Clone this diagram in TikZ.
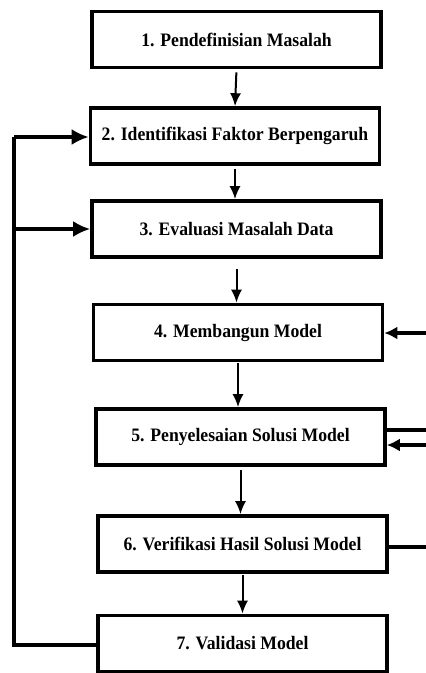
\documentclass[tikz,border=0pt]{standalone}
\usepackage{fontspec}
\setmainfont{Liberation Serif}
\newfontfamily\boxfont[FakeStretch=0.93]{Liberation Serif}
\usetikzlibrary{arrows.meta,calc}
\begin{document}
\begin{tikzpicture}[x=1pt,y=-1pt,
  box/.style={draw,line width=3.6pt,minimum width=289pt,minimum height=56pt,inner sep=0pt,font=\boxfont\bfseries\fontsize{19}{22}\selectfont},
  varr/.style={line width=2pt,-{Latex[length=13pt,width=11pt]}},
  fb/.style={line width=3.2pt},
  fbarr/.style={line width=3.2pt,-{Latex[length=17pt,width=16pt]}},
  rarr/.style={line width=3.2pt,-{Latex[length=13pt,width=13pt]}}]
\useasboundingbox (0,0) rectangle (426,673);
\node[box] (b1) at (236.5,39.5) {1. Pendefinisian Masalah};
\node[box] (b2) at (235,136) {2. Identifikasi Faktor Berpengaruh};
\node[box] (b3) at (236.5,229) {3. Evaluasi Masalah Data};
\node[box] (b4) at (238,332.5) {4. Membangun Model};
\node[box] (b5) at (240.5,437) {5. Penyelesaian Solusi Model};
\node[box] (b6) at (242.5,544) {6. Verifikasi Hasil Solusi Model};
\node[box] (b7) at (242.5,643.5) {7. Validasi Model};
% vertical arrows
\draw[varr,shorten <=3pt] (b1.south) -- (b2.north);
\draw[varr,shorten <=3pt] (b2.south) -- (b2.south |- b3.north);
\draw[varr,shorten <=10pt] (b3.south) -- (b3.south |- b4.north);
\draw[varr,shorten <=1pt] (b4.south) -- (b4.south |- b5.north);
\draw[varr,shorten <=3pt] (b5.south) -- (b5.south |- b6.north);
\draw[varr,shorten <=1pt] (b6.south) -- (b6.south |- b7.north);
% left feedback
\coordinate (lc) at (14,645);
\coordinate (l3) at (14,229);
\draw[fb] (b7.west |- lc) -- (lc) -- (14,137);
\draw[fbarr] (14,137) -- (b2.west |- 0,137);
\draw[fbarr] (l3) -- (b3.west);
% right side
\coordinate (r4) at (426,333);
\coordinate (r5a) at (426,430);
\coordinate (r5b) at (426,445);
\coordinate (r6) at (426,547);
\draw[rarr] (r4) -- (b4.east |- r4);
\draw[fb] (b5.east |- r5a) -- (r5a);
\draw[rarr] (r5b) -- (b5.east |- r5b);
\draw[fb] (b6.east |- r6) -- (r6);
\end{tikzpicture}
\end{document}
